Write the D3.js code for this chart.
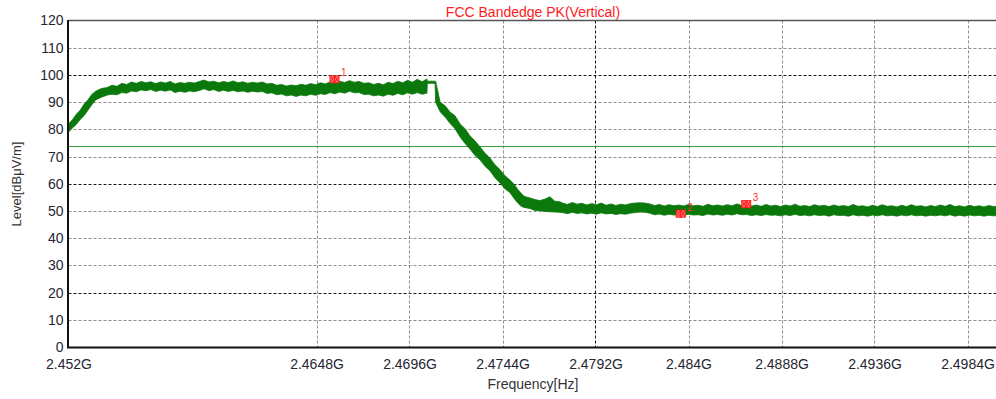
<!DOCTYPE html>
<html>
<head>
<meta charset="utf-8">
<script src="https://cdn.jsdelivr.net/npm/d3@7"></script>
<style>
  body { margin: 0; background: #fff; }
  svg { display: block; font-family: 'Liberation Sans', Arial, sans-serif; }
  .grid line { stroke: #8e8e8e; stroke-width: 1; stroke-dasharray: 3,2; }
  .grid line.major { stroke: #1a1a1a; }
  .axis text { fill: #262633; font-size: 14px; }
  .axis path, .axis line { display: none; }
</style>
</head>
<body>
<div id="chart"></div>
<script>
// Frequency in MHz, levels in dBuV/m
var freqTicks = [2452, 2464.8, 2469.6, 2474.4, 2479.2, 2484, 2488.8, 2493.6, 2498.4];
var freqTickLabels = ['2.452G', '2.4648G', '2.4696G', '2.4744G', '2.4792G', '2.484G', '2.4888G', '2.4936G', '2.4984G'];
var levelTicks = [0, 10, 20, 30, 40, 50, 60, 70, 80, 90, 100, 110, 120];
var limitLevel = 74;

// trace drawn as band between max and min of the noisy sweep
var traceFreq = [
  // rise
  2452.0, 2452.2, 2452.4, 2452.6, 2452.8, 2453.0, 2453.2, 2453.4, 2453.7,
  // in-band
  2454.0, 2454.25, 2454.5, 2454.75, 2455.0, 2455.25, 2455.5, 2455.75, 2456.0, 2456.25,
  2456.5, 2456.75, 2457.0, 2457.25, 2457.5, 2457.75, 2458.0, 2458.25, 2458.5, 2458.75,
  2459.0, 2459.25, 2459.5, 2459.75, 2460.0, 2460.25, 2460.5, 2460.75, 2461.0, 2461.25,
  2461.5, 2461.75, 2462.0, 2462.25, 2462.5, 2462.75, 2463.0, 2463.25, 2463.5, 2463.75,
  2464.0, 2464.25, 2464.5, 2464.75, 2465.0, 2465.25, 2465.5, 2465.75, 2466.0, 2466.25,
  2466.5, 2466.75, 2467.0, 2467.25, 2467.5, 2467.75, 2468.0, 2468.25, 2468.5, 2468.75,
  2469.0, 2469.25, 2469.5, 2469.75, 2470.0, 2470.25, 2470.5,
  // hold + edge
  2470.52, 2470.92, 2470.95,
  2471.18, 2471.45, 2471.69, 2471.95, 2472.21, 2472.47, 2472.72, 2472.98, 2473.24, 2473.5,
  2473.75, 2474.01, 2474.27, 2474.52, 2474.78, 2475.0, 2475.2, 2475.35, 2475.51, 2475.81,
  2476.07, 2476.33, 2476.6, 2476.85, 2477.1, 2477.36,
  // out of band
  2477.5, 2477.75, 2478.0, 2478.25, 2478.5, 2478.75, 2479.0, 2479.25, 2479.5, 2479.75,
  2480.0, 2480.25, 2480.5, 2480.75, 2481.0, 2481.25, 2481.5, 2481.75, 2482.0, 2482.25,
  2482.5, 2482.75, 2483.0, 2483.25, 2483.5, 2483.75, 2484.0, 2484.25, 2484.5, 2484.75,
  2485.0, 2485.25, 2485.5, 2485.75, 2486.0, 2486.25, 2486.5, 2486.75, 2487.0, 2487.25,
  2487.5, 2487.75, 2488.0, 2488.25, 2488.5, 2488.75, 2489.0, 2489.25, 2489.5, 2489.75,
  2490.0, 2490.25, 2490.5, 2490.75, 2491.0, 2491.25, 2491.5, 2491.75, 2492.0, 2492.25,
  2492.5, 2492.75, 2493.0, 2493.25, 2493.5, 2493.75, 2494.0, 2494.25, 2494.5, 2494.75,
  2495.0, 2495.25, 2495.5, 2495.75, 2496.0, 2496.25, 2496.5, 2496.75, 2497.0, 2497.25,
  2497.5, 2497.75, 2498.0, 2498.25, 2498.5, 2498.75, 2499.0, 2499.25, 2499.5, 2499.75,
  2500.0
];
var traceHigh = [
  82.0, 83.5, 85.5, 87.0, 89.2, 90.8, 92.8, 94.0, 95.0,
  95.4, 96.2, 95.8, 96.9, 96.5, 97.4, 96.9, 97.6, 97.1, 97.5,
  96.8, 97.4, 97.0, 97.6, 96.7, 97.2, 96.9, 97.3, 97.0, 97.6,
  98.1, 97.4, 97.7, 97.1, 97.6, 97.2, 97.8, 97.1, 97.5, 96.9,
  97.3, 97.0, 97.4, 96.7, 96.9, 96.2, 96.5, 95.9, 96.3, 96.0,
  96.6, 96.2, 96.8, 96.4, 97.1, 96.7, 97.4, 97.0, 97.7, 97.2,
  97.9, 97.3, 97.6, 96.9, 97.1, 96.5, 96.9, 96.4, 97.3, 96.8,
  97.7, 97.1, 98.0, 97.3, 98.4, 97.5, 98.5,
  97.7, 97.7, 97.7,
  90.0, 88.6, 86.4, 85.0, 82.0, 80.2, 77.6, 75.8, 73.5, 71.2,
  69.5, 67.0, 65.2, 63.0, 61.4, 59.8, 57.8, 56.6, 55.4, 54.8,
  54.2, 53.8, 54.4, 55.2, 53.6, 53.4,
  52.9, 52.4, 53.1, 52.5, 52.8, 52.2, 52.7, 52.3, 52.9, 52.1,
  52.6, 52.0, 52.5, 52.2, 52.7, 52.9, 53.0, 52.9, 52.6, 52.0,
  52.4, 51.8, 52.3, 51.9, 52.2, 51.8, 52.4, 51.9, 52.1, 51.7,
  52.5, 51.9, 52.2, 51.8, 52.3, 51.9, 52.6, 52.0, 52.3, 51.8,
  52.2, 51.7, 52.4, 51.8, 52.1, 51.6, 52.2, 51.8, 52.5, 51.7,
  52.0, 51.6, 52.3, 51.8, 52.1, 51.6, 52.2, 51.7, 52.0, 51.6,
  52.4, 51.7, 51.9, 51.5, 52.1, 51.6, 52.3, 51.7, 51.9, 51.5,
  52.1, 51.6, 52.3, 51.7, 51.9, 51.5, 52.0, 51.6, 52.2, 51.7,
  52.4, 51.6, 51.9, 51.5, 52.1, 51.6, 51.9, 51.5, 52.0, 51.6,
  51.8
];
var traceLow = [
  79.0, 80.5, 81.8, 83.6, 85.0, 87.0, 89.0, 90.8, 91.8,
  92.6, 92.9, 92.7, 93.5, 93.3, 94.1, 93.8, 94.5, 94.2, 94.6,
  93.9, 94.4, 94.0, 94.5, 93.5, 94.0, 93.6, 94.1, 93.8, 94.3,
  94.9, 94.2, 94.6, 93.9, 94.4, 93.9, 94.3, 93.8, 94.1, 93.6,
  94.0, 93.7, 93.9, 93.2, 93.4, 92.7, 93.0, 92.3, 92.6, 92.1,
  92.6, 92.3, 92.9, 92.5, 93.1, 92.8, 93.5, 93.1, 93.7, 93.3,
  94.0, 93.4, 93.5, 92.8, 92.9, 92.3, 92.6, 92.2, 92.9, 92.5,
  93.2, 92.7, 93.4, 92.9, 93.5, 92.9, 93.3,
  96.9, 96.9, 90.0,
  86.5, 84.4, 82.2, 80.2, 77.2, 74.8, 72.8, 70.4, 68.8, 66.4,
  64.8, 62.2, 60.3, 58.2, 56.8, 54.6, 52.8, 51.8, 51.3, 50.9,
  50.2, 50.1, 49.8, 49.7, 49.6, 49.5,
  49.4, 49.0, 49.5, 49.1, 49.3, 48.9, 49.2, 48.8, 49.3, 48.9,
  49.1, 48.7, 49.0, 48.8, 49.2, 49.4, 49.6, 49.5, 49.2, 48.6,
  48.9, 48.4, 48.8, 48.5, 48.7, 48.3, 48.8, 48.5, 48.6, 48.3,
  48.9, 48.5, 48.7, 48.4, 48.8, 48.5, 49.0, 48.6, 48.7, 48.3,
  48.6, 48.3, 48.7, 48.4, 48.5, 48.2, 48.6, 48.3, 48.8, 48.3,
  48.5, 48.2, 48.6, 48.3, 48.5, 48.1, 48.6, 48.3, 48.4, 48.1,
  48.6, 48.2, 48.4, 48.1, 48.5, 48.2, 48.6, 48.2, 48.4, 48.1,
  48.5, 48.2, 48.6, 48.2, 48.4, 48.1, 48.4, 48.2, 48.5, 48.2,
  48.6, 48.1, 48.4, 48.1, 48.5, 48.2, 48.4, 48.1, 48.4, 48.2,
  48.3
];

var markerFreq = [2465.73, 2483.6, 2486.98];
var markerLevel = [98.4, 49.0, 52.5];
var markerLabels = ['1', '2', '3'];

var width = 996, height = 399;
var plot = {left: 68.5, right: 998.5, top: 20.5, bottom: 347};

var x = d3.scaleLinear().domain([2452, 2500]).range([plot.left, plot.right]);
var y = d3.scaleLinear().domain([0, 120]).range([plot.bottom, plot.top]);

var svg = d3.select('#chart').append('svg')
  .attr('width', width)
  .attr('height', height);

svg.append('rect').attr('width', width).attr('height', height).attr('fill', '#fff');

// grid
var grid = svg.append('g').attr('class', 'grid');
grid.selectAll('.hgrid')
  .data(levelTicks.filter(function(d) { return d > 0 && d < 120; }))
  .enter().append('line')
  .attr('class', function(d) { return (d === 20 || d === 60 || d === 100) ? 'major' : null; })
  .attr('x1', plot.left).attr('x2', width)
  .attr('y1', function(d) { return Math.round(y(d)) + 0.5; })
  .attr('y2', function(d) { return Math.round(y(d)) + 0.5; });
grid.selectAll('.vgrid')
  .data(freqTicks.slice(1))
  .enter().append('line')
  .attr('class', function(d) { return d === 2479.2 ? 'major' : null; })
  .attr('x1', function(d) { return Math.round(x(d)) + 0.5; })
  .attr('x2', function(d) { return Math.round(x(d)) + 0.5; })
  .attr('y1', plot.top).attr('y2', plot.bottom);

// limit line
svg.append('line')
  .attr('x1', plot.left).attr('x2', width)
  .attr('y1', Math.round(y(limitLevel)) + 0.5)
  .attr('y2', Math.round(y(limitLevel)) + 0.5)
  .attr('stroke', '#3c9c3c')
  .attr('stroke-width', 1.2);

// trace band
var traceData = traceFreq.map(function(f, i) { return [f, traceHigh[i], traceLow[i]]; });
var area = d3.area()
  .x(function(d) { return x(d[0]); })
  .y0(function(d) { return y(d[2]); })
  .y1(function(d) { return y(d[1]); });
svg.append('path')
  .attr('d', area(traceData))
  .attr('fill', '#0a780a')
  .attr('stroke', '#0a780a')
  .attr('stroke-width', 0.8)
  .attr('stroke-linejoin', 'miter');

// frame
svg.append('line')
  .attr('x1', plot.left).attr('x2', width)
  .attr('y1', plot.top).attr('y2', plot.top)
  .attr('stroke', '#555').attr('stroke-width', 1.5);
svg.append('line')
  .attr('x1', plot.left - 0.5).attr('x2', plot.left - 0.5)
  .attr('y1', plot.top - 0.5).attr('y2', plot.bottom + 1)
  .attr('stroke', '#111').attr('stroke-width', 2);
svg.append('line')
  .attr('x1', plot.left - 1.5).attr('x2', width)
  .attr('y1', plot.bottom + 0.5).attr('y2', plot.bottom + 0.5)
  .attr('stroke', '#111').attr('stroke-width', 2);

// markers
var markers = svg.append('g').attr('class', 'markers');
markerFreq.forEach(function(f, i) {
  var g = markers.append('g')
    .attr('transform', 'translate(' + x(f) + ',' + y(markerLevel[i]) + ')');
  [-4.5, 0].forEach(function(dx) {
    g.append('rect')
      .attr('x', dx).attr('y', -3.5).attr('width', 4.5).attr('height', 7)
      .attr('fill', '#ff8080').attr('stroke', '#ff1a1a').attr('stroke-width', 1);
    g.append('path')
      .attr('d', 'M' + dx + ',-3.5L' + (dx + 4.5) + ',3.5M' + (dx + 4.5) + ',-3.5L' + dx + ',3.5')
      .attr('stroke', '#ff1a1a').attr('stroke-width', 1);
  });
  g.append('text')
    .attr('x', 6.5).attr('y', -3)
    .attr('fill', '#ff3030')
    .style('font-size', '10px')
    .text(markerLabels[i]);
});

// axes
var xAxis = d3.axisBottom(x)
  .tickValues(freqTicks)
  .tickFormat(function(d, i) { return freqTickLabels[i]; })
  .tickSize(0)
  .tickPadding(12);
svg.append('g')
  .attr('class', 'axis')
  .attr('transform', 'translate(0,' + plot.bottom + ')')
  .call(xAxis);

var yAxis = d3.axisLeft(y)
  .tickValues(levelTicks)
  .tickSize(0)
  .tickPadding(5);
svg.append('g')
  .attr('class', 'axis')
  .attr('transform', 'translate(' + plot.left + ',0)')
  .call(yAxis);

// titles
svg.append('text')
  .attr('x', 533).attr('y', 17)
  .attr('text-anchor', 'middle')
  .attr('fill', '#ff2020')
  .style('font-size', '14px')
  .text('FCC Bandedge PK(Vertical)');

svg.append('text')
  .attr('x', 533).attr('y', 389)
  .attr('text-anchor', 'middle')
  .attr('fill', '#333')
  .style('font-size', '14px')
  .text('Frequency[Hz]');

svg.append('text')
  .attr('transform', 'translate(21,184) rotate(-90)')
  .attr('text-anchor', 'middle')
  .attr('fill', '#333')
  .style('font-size', '13px')
  .text('Level[dBμV/m]');
</script>
</body>
</html>
